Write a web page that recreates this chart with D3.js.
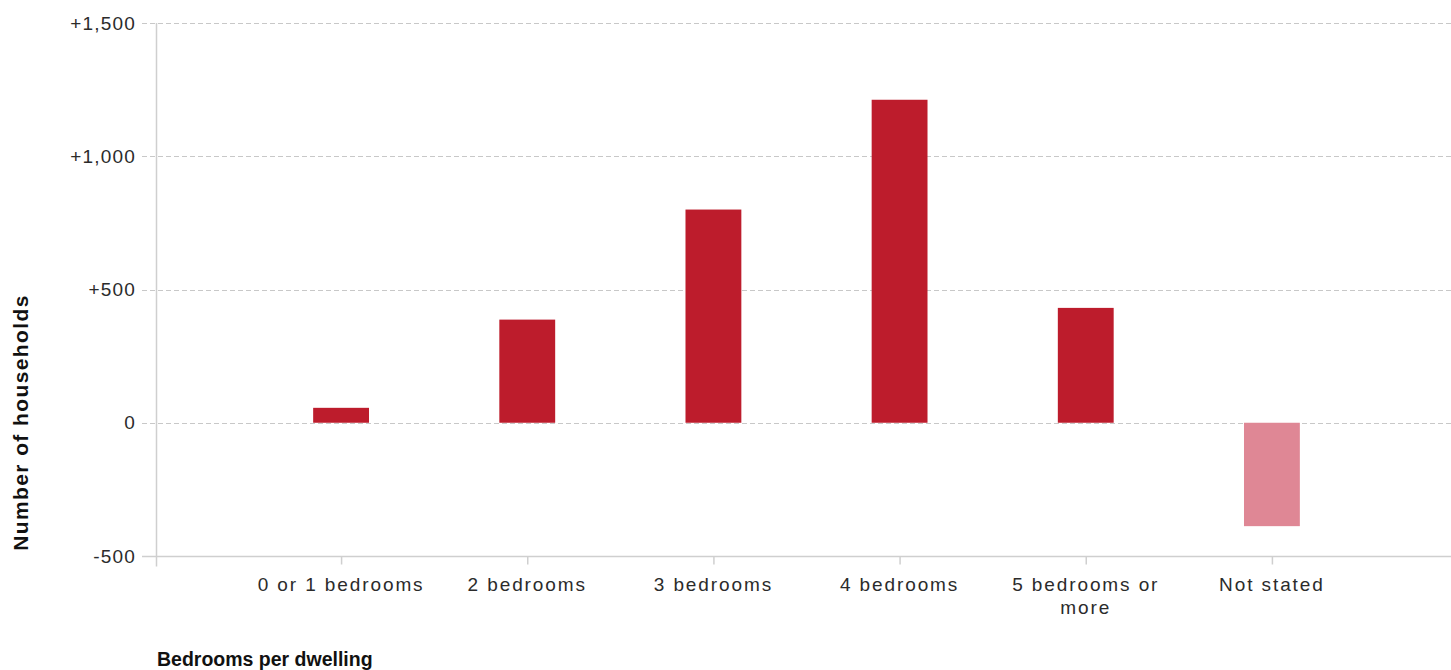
<!DOCTYPE html>
<html>
<head>
<meta charset="utf-8">
<script src="https://cdn.jsdelivr.net/npm/d3@7"></script>
<style>
  html, body { margin: 0; padding: 0; background: #fff; }
  svg { display: block; }
  text { font-family: "Liberation Sans", Arial, sans-serif; }
</style>
</head>
<body>
<script>
// ---- Data ----
const categories = ["0 or 1 bedrooms", "2 bedrooms", "3 bedrooms", "4 bedrooms", "5 bedrooms or more", "Not stated"];
const values = [56, 387, 800, 1212, 431, -388];
const barColors = ["#bd1c2c", "#bd1c2c", "#bd1c2c", "#bd1c2c", "#bd1c2c", "#df8795"];
const yTicks = [-500, 0, 500, 1000, 1500];
const xTitle = "Bedrooms per dwelling";
const yTitle = "Number of households";

// ---- Layout ----
const W = 1451, H = 670;
const svg = d3.select("body").append("svg").attr("width", W).attr("height", H);

const axisX = 156;
const plotRight = W;
const y = d3.scaleLinear().domain([-500, 1500]).range([556, 23]);
const x = d3.scaleBand().domain(categories).range([248, 1365]).paddingInner(0.7).paddingOuter(0.35);

const fmt = v => v > 0 ? "+" + d3.format(",")(v) : String(v);

// gridlines (dashed), excluding bottom baseline
const grid = svg.append("g");
yTicks.forEach(t => {
  if (t === yTicks[0]) return;
  const yy = Math.round(y(t)) + 0.5;
  grid.append("line")
    .attr("x1", 142).attr("x2", plotRight)
    .attr("y1", yy).attr("y2", yy)
    .attr("stroke", "#c8c8c8").attr("stroke-width", 1)
    .attr("stroke-dasharray", "5,3");
});

// bottom axis line (solid)
const baseY = Math.round(y(yTicks[0])) + 0.5;
svg.append("line")
  .attr("x1", 142).attr("x2", plotRight)
  .attr("y1", baseY).attr("y2", baseY)
  .attr("stroke", "#cfcfcf").attr("stroke-width", 1.5);

// vertical y-axis line
svg.append("line")
  .attr("x1", axisX + 0.5).attr("x2", axisX + 0.5)
  .attr("y1", y(1500)).attr("y2", baseY + 10)
  .attr("stroke", "#cfcfcf").attr("stroke-width", 1.5);

// y tick labels
svg.append("g").selectAll("text").data(yTicks).join("text")
  .attr("x", 136)
  .attr("y", d => y(d))
  .attr("dy", "0.35em")
  .attr("text-anchor", "end")
  .attr("font-size", 19)
  .attr("letter-spacing", 1.2)
  .attr("fill", "#2b2b2b")
  .text(fmt);

// bars
svg.append("g").selectAll("rect").data(categories).join("rect")
  .attr("x", d => x(d))
  .attr("width", x.bandwidth())
  .attr("y", (d, i) => y(Math.max(0, values[i])))
  .attr("height", (d, i) => Math.abs(y(values[i]) - y(0)))
  .attr("fill", (d, i) => barColors[i]);

// x ticks
const xt = svg.append("g").selectAll("g").data(categories).join("g")
  .attr("transform", d => `translate(${x(d) + x.bandwidth() / 2},0)`);
xt.append("line")
  .attr("x1", 0.5).attr("x2", 0.5)
  .attr("y1", baseY).attr("y2", baseY + 8)
  .attr("stroke", "#cfcfcf").attr("stroke-width", 1.5);

function wrapLines(label) {
  const words = label.split(" ");
  const lines = [];
  let cur = "";
  words.forEach(w => {
    const test = cur ? cur + " " + w : w;
    if (test.length > 13 && cur) { lines.push(cur); cur = w; } else { cur = test; }
  });
  if (cur) lines.push(cur);
  return lines;
}
xt.each(function(d) {
  const g = d3.select(this);
  const lines = d.length > 15 ? wrapLines(d) : [d];
  lines.forEach((ln, k) => {
    g.append("text")
      .attr("x", 0)
      .attr("y", 591 + k * 23)
      .attr("text-anchor", "middle")
      .attr("font-size", 19)
      .attr("letter-spacing", 1.9)
      .attr("fill", "#2b2b2b")
      .text(ln);
  });
});

// axis titles
svg.append("text")
  .attr("x", 157).attr("y", 666)
  .attr("font-size", 19.5)
  .attr("font-weight", "bold")
  .attr("fill", "#111")
  .text(xTitle);

svg.append("text")
  .attr("transform", `translate(28,${(295 + 550) / 2}) rotate(-90)`)
  .attr("text-anchor", "middle")
  .attr("font-size", 21)
  .attr("font-weight", "bold")
  .attr("letter-spacing", 1.4)
  .attr("fill", "#111")
  .text(yTitle);
</script>
</body>
</html>
